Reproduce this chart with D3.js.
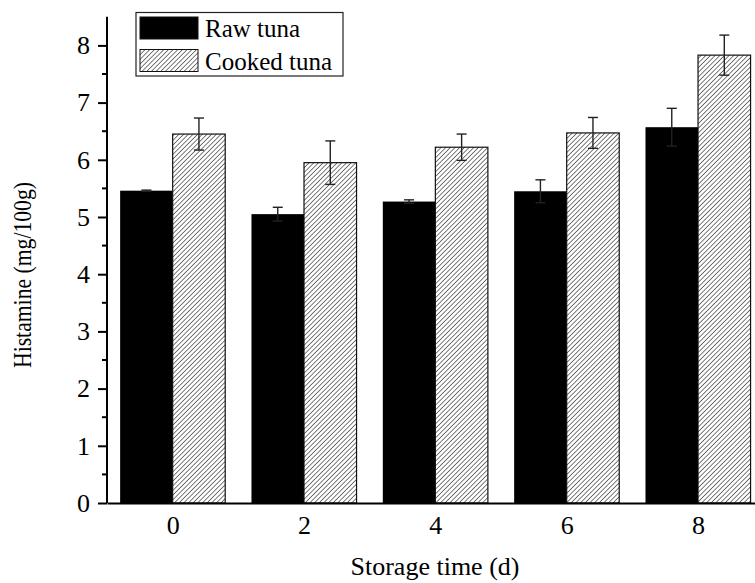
<!DOCTYPE html>
<html>
<head>
<meta charset="utf-8">
<script src="https://cdn.jsdelivr.net/npm/d3@7"></script>
<style>
  html, body { margin: 0; padding: 0; background: #fff; overflow: hidden; }
  svg { display: block; font-family: "Liberation Serif", "Times New Roman", serif; }
</style>
</head>
<body>
<script>
const days = [0, 2, 4, 6, 8]
const raw = [5.46, 5.05, 5.27, 5.45, 6.57]
const rawErr = [0.01, 0.12, 0.03, 0.2, 0.33]
const cooked = [6.45, 5.95, 6.22, 6.47, 7.83]
const cookedErr = [0.28, 0.38, 0.23, 0.27, 0.35]
const yTicks = [0, 1, 2, 3, 4, 5, 6, 7, 8]
const seriesNames = ['Raw tuna', 'Cooked tuna']

const w = 755, h = 583
const barW = 0.8

const svg = d3.select('body').append('svg')
  .attr('width', w)
  .attr('height', h)

const defs = svg.append('defs')
defs.append('pattern')
  .attr('id', 'hatch')
  .attr('patternUnits', 'userSpaceOnUse')
  .attr('width', 3.3)
  .attr('height', 3.3)
  .attr('patternTransform', 'rotate(45)')
  .call(p => p.append('rect').attr('width', 3.3).attr('height', 3.3).attr('fill', '#fff'))
  .append('line')
    .attr('x1', 0).attr('y1', 0).attr('x2', 0).attr('y2', 3.3)
    .attr('stroke', '#333')
    .attr('stroke-width', 1.3)

const x = d3.scaleLinear().domain([-1, 9]).range([107, 107 + 656.7])
const y = d3.scaleLinear().domain([0, 8.5]).range([503, 503 - 8.5 * 57.2])

const rows = days.map((d, i) => ({ day: d, raw: raw[i], rawErr: rawErr[i], cooked: cooked[i], cookedErr: cookedErr[i] }))

// bars
svg.append('g').selectAll('rect')
  .data(rows)
  .join('rect')
    .attr('x', d => x(d.day - barW))
    .attr('y', d => y(d.raw))
    .attr('width', d => x(d.day) - x(d.day - barW))
    .attr('height', d => y(0) - y(d.raw))
    .attr('fill', '#000')

svg.append('g').selectAll('rect')
  .data(rows)
  .join('rect')
    .attr('x', d => x(d.day))
    .attr('y', d => y(d.cooked))
    .attr('width', d => x(d.day + barW) - x(d.day))
    .attr('height', d => y(0) - y(d.cooked))
    .attr('fill', 'url(#hatch)')
    .attr('stroke', '#111')
    .attr('stroke-width', 1.2)

// error bars
const errBar = (g, cx, v, e) => {
  g.append('line')
    .attr('x1', cx).attr('x2', cx)
    .attr('y1', y(v - e)).attr('y2', y(v + e))
  g.append('line')
    .attr('x1', cx - 5).attr('x2', cx + 5)
    .attr('y1', y(v + e)).attr('y2', y(v + e))
  g.append('line')
    .attr('x1', cx - 5).attr('x2', cx + 5)
    .attr('y1', y(v - e)).attr('y2', y(v - e))
}
const errG = svg.append('g')
  .attr('stroke', '#222')
  .attr('stroke-width', 1.4)
rows.forEach(d => {
  errBar(errG, x(d.day - barW / 2), d.raw, d.rawErr)
  errBar(errG, x(d.day + barW / 2), d.cooked, d.cookedErr)
})

// y axis
const yAxis = svg.append('g')
  .attr('transform', `translate(${x(-1)},0)`)
  .call(d3.axisLeft(y).tickValues(yTicks).tickSize(9).tickPadding(8).tickFormat(d3.format('d')))
yAxis.select('.domain').attr('stroke-width', 2).attr('d', `M0,${y(8.5)}V${y(0)}`)
yAxis.selectAll('.tick line').attr('stroke-width', 2)
yAxis.selectAll('.tick text').attr('font-size', 26).attr('font-family', 'Liberation Serif').attr('fill', '#000')
yAxis.append('g').selectAll('line')
  .data(d3.range(0.5, 8.5, 1))
  .join('line')
    .attr('x1', -5).attr('x2', 0)
    .attr('y1', d => y(d)).attr('y2', d => y(d))
    .attr('stroke', '#000')
    .attr('stroke-width', 2)

// x axis
const xAxis = svg.append('g')
  .attr('transform', `translate(0,${y(0)})`)
  .call(d3.axisBottom(x).tickValues(days).tickSize(0).tickPadding(13))
xAxis.select('.domain').attr('stroke-width', 2)
xAxis.selectAll('.tick text').attr('font-size', 26).attr('font-family', 'Liberation Serif').attr('fill', '#000')

// axis titles
svg.append('text')
  .attr('transform', `translate(31,275) rotate(-90)`)
  .attr('text-anchor', 'middle')
  .attr('font-size', 26)
  .attr('textLength', 186)
  .attr('lengthAdjust', 'spacingAndGlyphs')
  .text('Histamine (mg/100g)')

svg.append('text')
  .attr('x', 435)
  .attr('y', 575)
  .attr('text-anchor', 'middle')
  .attr('font-size', 26)
  .text('Storage time (d)')

// legend
const legend = svg.append('g')
legend.append('rect')
  .attr('x', 136).attr('y', 12.5)
  .attr('width', 207).attr('height', 63.5)
  .attr('fill', '#fff')
  .attr('stroke', '#222')
  .attr('stroke-width', 1.2)
const items = legend.selectAll('g')
  .data(seriesNames)
  .join('g')
    .attr('transform', (d, i) => `translate(140,${17 + i * 32.5})`)
items.append('rect')
  .attr('width', 58).attr('height', 22)
  .attr('fill', (d, i) => i === 0 ? '#000' : 'url(#hatch)')
  .attr('stroke', '#111')
  .attr('stroke-width', 1)
items.append('text')
  .attr('x', 65).attr('y', 20)
  .attr('font-size', 25)
  .text(d => d)
</script>
</body>
</html>
